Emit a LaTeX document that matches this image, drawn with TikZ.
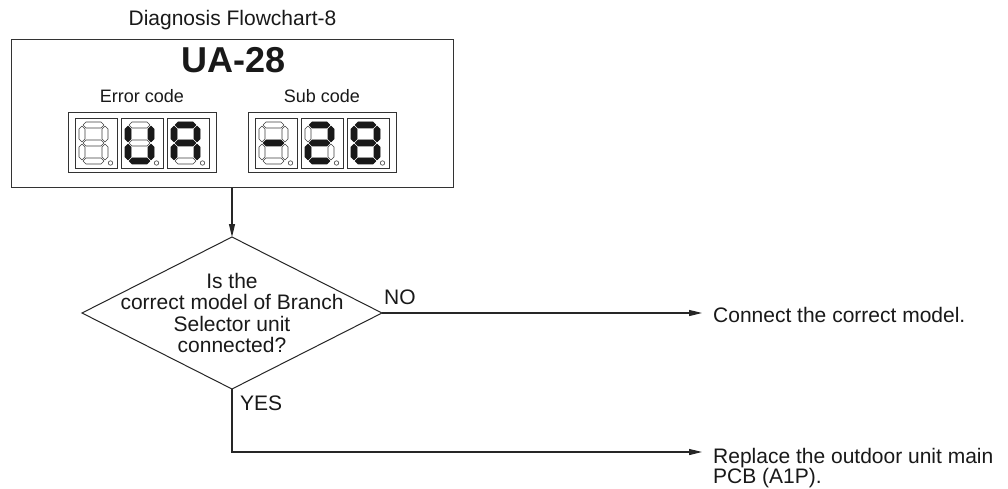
\documentclass[tikz,border=0pt]{standalone}
\usepackage{fontspec}
\setmainfont{Liberation Sans}
\usetikzlibrary{arrows.meta,shapes.geometric}
\tikzset{
  frameline/.style={draw=black!80, line width=1pt},
  innerframe/.style={draw=black!80, line width=0.8pt},
  segon/.style={fill=black!90, draw=black!90, line width=0.6pt, line join=round},
  segoff/.style={draw=black!75, line width=0.55pt, fill=white, line join=round},
  dp/.style={draw=black!75, line width=0.6pt, fill=white},
  conn/.style={draw=black!85, line width=1.2pt, -{Triangle[length=13pt,width=6pt]}},
  txt/.style={text=black!90, font=\fontsize{21}{21.3}\selectfont, inner sep=0pt},
  smalltxt/.style={text=black!90, font=\fontsize{18}{20}\selectfont, inner sep=0pt},
}
\newcommand\SegH[4]{%
  \path[#1] ({#2+1},{#4}) -- ({#2+4},{#4-3}) -- ({#3-4},{#4-3}) -- ({#3-1},{#4}) -- ({#3-4},{#4+3}) -- ({#2+4},{#4+3}) -- cycle;}
\newcommand\SegV[4]{%
  \path[#1] ({#2},{#3+1}) -- ({#2+3},{#3+4}) -- ({#2+3},{#4-4}) -- ({#2},{#4-1}) -- ({#2-3},{#4-4}) -- ({#2-3},{#3+4}) -- cycle;}
\newcommand\DispDigit[9]{%
  \draw[innerframe] (#1,#2) rectangle ++(42,50);
  \SegH{#3}{#1+7}{#1+30}{#2+7}
  \SegV{#4}{#1+30}{#2+7}{#2+25}
  \SegV{#5}{#1+30}{#2+25}{#2+43}
  \SegH{#6}{#1+7}{#1+30}{#2+43}
  \SegV{#7}{#1+7}{#2+25}{#2+43}
  \SegV{#8}{#1+7}{#2+7}{#2+25}
  \SegH{#9}{#1+7}{#1+30}{#2+25}
  \draw[dp] ({#1+35.5},{#2+45}) circle (2.2);}
\begin{document}
\begin{tikzpicture}[x=1pt,y=-1pt]
\useasboundingbox[fill=white] (0,0) rectangle (1008,489);

% title
\node[txt, anchor=base] (title) at (232.5,26) {Diagnosis Flowchart-8};

% panel
\node[frameline, draw, minimum width=442pt, minimum height=148pt, anchor=north west, inner sep=0pt] (panel) at (11,39) {};
\node[text=black!90, inner sep=0pt, font=\fontsize{36}{36}\selectfont\bfseries, anchor=base] (code) at (233.5,73) {UA-28};
\node[smalltxt, anchor=base] (errlbl) at (142,103) {Error code};
\node[smalltxt, anchor=base] (sublbl) at (322,103) {Sub code};

% left display
\draw[frameline] (68,113) rectangle (216,173);
\DispDigit{75}{118}{segoff}{segoff}{segoff}{segoff}{segoff}{segoff}{segoff}
\DispDigit{121}{118}{segoff}{segon}{segon}{segon}{segon}{segon}{segoff}
\DispDigit{167}{118}{segon}{segon}{segon}{segoff}{segon}{segon}{segon}
% right display
\draw[frameline] (248,113) rectangle (396,173);
\DispDigit{255}{118}{segoff}{segoff}{segoff}{segoff}{segoff}{segoff}{segon}
\DispDigit{301}{118}{segon}{segon}{segoff}{segon}{segon}{segoff}{segon}
\DispDigit{347}{118}{segon}{segon}{segon}{segon}{segon}{segon}{segon}

% decision
\node[diamond, draw=black!85, line width=1pt, minimum width=300pt, minimum height=152pt, inner sep=0pt, outer sep=0pt] (q) at (232,313) {};
\node[txt, align=center] (qtext) at (q.center) {Is the\\correct model of Branch\\Selector unit\\connected?};

\draw[conn] (panel.south -| q.north) -- (q.north);

% NO branch
\node[txt, anchor=base west] (no) at (384,304) {NO};
\node[txt, anchor=base west, inner xsep=11pt] (connect) at (702,322) {Connect the correct model.};
\draw[conn] (q.east) -- (q.east -| connect.west);

% YES branch
\node[txt, anchor=base west] (yes) at (240,410) {YES};
\node[text=black!90, font=\fontsize{21}{20}\selectfont, inner ysep=0pt, inner xsep=11pt, align=left, anchor=north west] (replace) at (702,447.7) {Replace the outdoor unit main\\PCB (A1P).};
\draw[conn] (q.south) |- ([yshift=-4.3pt]replace.north west);
\end{tikzpicture}
\end{document}
